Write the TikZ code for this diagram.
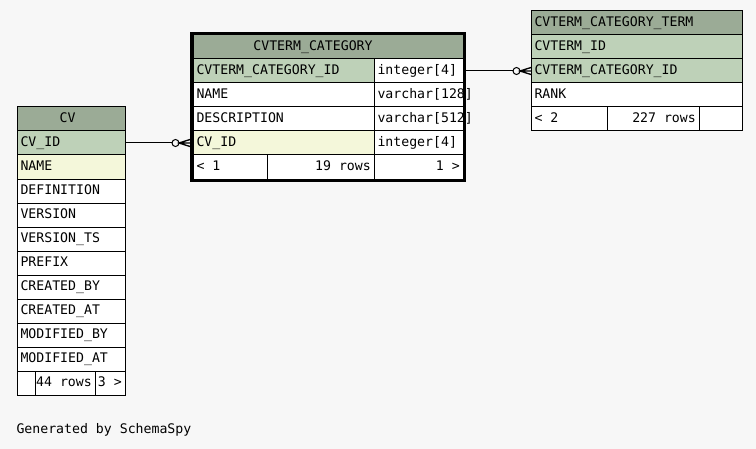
\documentclass[tikz,border=0pt]{standalone}
\usepackage{fontspec}
\setmonofont{DejaVu Sans Mono}[HyphenChar=None]
\usetikzlibrary{calc}
\definecolor{bgcol}{HTML}{F7F7F7}
\definecolor{hdcol}{HTML}{9BAB96}
\definecolor{pkcol}{HTML}{BED1B8}
\definecolor{fkcol}{HTML}{F4F7DA}
\newcommand\tabfont{\ttfamily\fontsize{9.9}{11}\selectfont}
\tikzset{
  txt/.style={font=\tabfont, inner sep=0pt, text height=7pt, text depth=2pt},
  cell/.style={draw, rectangle, anchor=north west, inner sep=0pt, outer sep=0pt, minimum height=18pt, fill=white},
  w/.style={minimum width=#1*0.75pt},
  hd/.style={cell, fill=hdcol},
  pk/.style={cell, fill=pkcol},
  fk/.style={cell, fill=fkcol},
  lt/.style={label={[txt, anchor=west, xshift=2.25pt]west:#1}},
  rt/.style={label={[txt, anchor=east, xshift=-2pt]east:#1}},
}
\begin{document}
\begin{tikzpicture}[x=0.75pt, y=-0.75pt, line width=0.75pt]
\fill[bgcol] (0,0) rectangle (756,449);
\useasboundingbox (0,0) rectangle (756,449);
% CV
\node[hd, w=108, label={[txt, xshift=-2.5pt]center:CV}] (cv) at (17,107) {};
\node[pk, w=108, lt=CV\_ID] (cvid) at (cv.south west) {};
\node[fk, w=108, lt=NAME] (cvname) at (cvid.south west) {};
\foreach \n [count=\i] in {DEFINITION,VERSION,VERSION\_TS,PREFIX,CREATED\_BY,CREATED\_AT,MODIFIED\_BY,MODIFIED\_AT}
  \node[cell, w=108, lt=\n] (cvrow\i) at (17,{155+24*\i}) {};
\node[cell, w=18] (cvfa) at (17,371) {};
\node[cell, w=60, rt=44 rows] (cvfb) at (cvfa.north east) {};
\node[cell, w=30, rt=3 >] (cvfc) at (cvfb.north east) {};
% CVTERM_CATEGORY
\node[hd, w=270, label={[txt, xshift=-11.25pt]center:CVTERM\_CATEGORY}] (cc) at (193,35) {};
\node[pk, w=181, lt=CVTERM\_CATEGORY\_ID] (ccid) at (cc.south west) {};
\node[cell, w=89, lt={{integer[4]}}] (ccidt) at (ccid.north east) {};
\node[cell, w=181, lt=NAME] (ccname) at (ccid.south west) {};
\node[cell, w=89, lt={{varchar[128]}}] (ccnamet) at (ccname.north east) {};
\node[cell, w=181, lt=DESCRIPTION] (ccdesc) at (ccname.south west) {};
\node[cell, w=89, lt={{varchar[512]}}] (ccdesct) at (ccdesc.north east) {};
\node[fk, w=181, lt=CV\_ID] (cccv) at (ccdesc.south west) {};
\node[cell, w=89, lt={{integer[4]}}] (cccvt) at (cccv.north east) {};
\node[cell, w=74, lt=< 1] (ccfa) at (cccv.south west) {};
\node[cell, w=107, rt=19 rows] (ccfb) at (ccfa.north east) {};
\node[cell, w=89, rt=1 >] (ccfc) at (ccfb.north east) {};
\node[draw, line width=2.25pt, inner sep=0pt, minimum width=204.75pt, minimum height=110.25pt] (ccframe) at (328,107) {};
% CVTERM_CATEGORY_TERM
\node[hd, w=211, lt=CVTERM\_CATEGORY\_TERM] (cct) at (531,11) {};
\node[pk, w=211, lt=CVTERM\_ID] (cctterm) at (cct.south west) {};
\node[pk, w=211, lt=CVTERM\_CATEGORY\_ID] (cctcat) at (cctterm.south west) {};
\node[cell, w=211, lt=RANK] (cctrank) at (cctcat.south west) {};
\node[cell, w=76, lt=< 2] (cctfa) at (cctrank.south west) {};
\node[cell, w=92, rt=227 rows] (cctfb) at (cctfa.north east) {};
\node[cell, w=43] (cctfc) at (cctfb.north east) {};
% links
\coordinate (ka) at (cvid.east -| ccframe.west);
\draw (cvid.east) -- ($(ka)+(-18,0)$);
\draw ($(ka)+(-14.5,0)$) circle[radius=3.5];
\draw[line width=1pt] ($(ka)+(0,-3.5)$) -- ($(ka)+(-11,0)$) -- ($(ka)+(0,3.5)$) (ka) -- ++(-11,0);
\coordinate (kb) at (cctcat.west);
\draw (ccidt.east -| ccframe.east) -- ($(kb)+(-18,0)$);
\draw ($(kb)+(-14.5,0)$) circle[radius=3.5];
\draw[line width=1pt] ($(kb)+(0,-3.5)$) -- ($(kb)+(-11,0)$) -- ($(kb)+(0,3.5)$) (kb) -- ++(-11,0);
\node[txt, anchor=west] (gen) at (16,430) {Generated by SchemaSpy};
\end{tikzpicture}
\end{document}
